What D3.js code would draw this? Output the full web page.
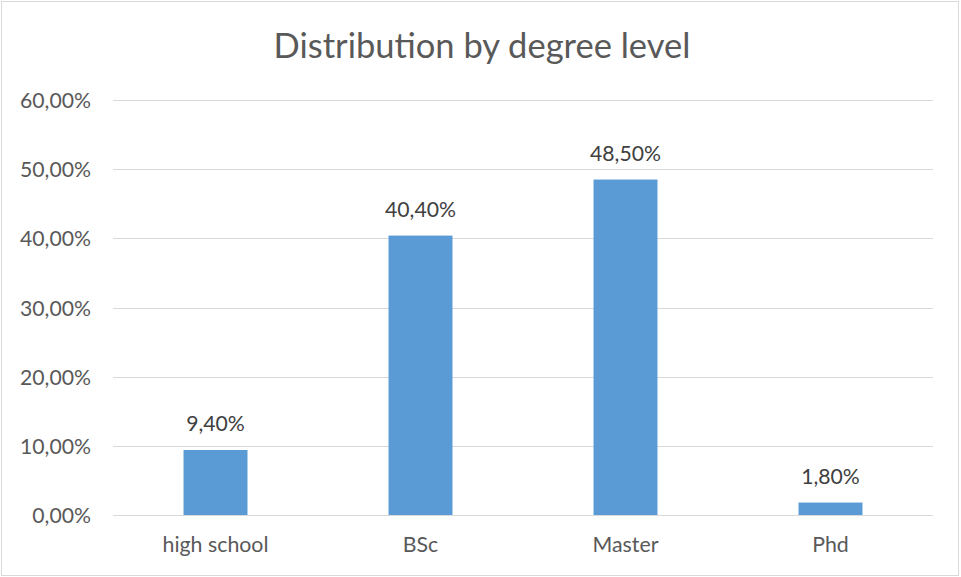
<!DOCTYPE html>
<html>
<head>
<meta charset="utf-8">
<script src="https://cdn.jsdelivr.net/npm/d3@7"></script>
<style>
  html, body { margin: 0; padding: 0; background: #fff; }
  svg { display: block; font-family: Lato, "Open Sans", sans-serif; }
</style>
</head>
<body>
<svg id="chart" width="961" height="577"></svg>
<script>
const categories = ["high school", "BSc", "Master", "Phd"];
const values = [9.40, 40.40, 48.50, 1.80];
const yTicks = [0, 10, 20, 30, 40, 50, 60];
const title = "Distribution by degree level";

const W = 961, H = 577;
const plot = { left: 113, right: 933, top: 100, bottom: 515 };
const svg = d3.select("#chart");

const fmt = v => v.toFixed(2).replace(".", ",") + "%";

// font size that makes a sample string span a given width
function fitSize(sample, width) {
  const t = svg.append("text").style("font-size", "100px").text(sample);
  const w = t.node().getComputedTextLength();
  t.remove();
  return 100 * width / w;
}
const labelSize = fitSize("50,00%", 71);
const catSize = fitSize("high school", 106);
const titleSize = fitSize(title, 417);

// chart frame
svg.append("rect")
  .attr("x", 1.5).attr("y", 1.5)
  .attr("width", W - 4).attr("height", H - 3)
  .attr("fill", "#fff").attr("stroke", "#d9d9d9").attr("stroke-width", 1);

const x = d3.scaleBand().domain(categories).range([plot.left, plot.right]).padding(0);
const y = d3.scaleLinear().domain([0, 60]).range([plot.bottom, plot.top]);

// gridlines
svg.append("g")
  .selectAll("line").data(yTicks).join("line")
  .attr("x1", plot.left).attr("x2", plot.right)
  .attr("y1", d => Math.round(y(d)) + 0.5).attr("y2", d => Math.round(y(d)) + 0.5)
  .attr("stroke", "#d9d9d9").attr("stroke-width", 1);

// y axis labels
const yAxis = d3.axisLeft(y).tickValues(yTicks).tickFormat(fmt).tickSize(0).tickPadding(0);
const gy = svg.append("g").attr("transform", `translate(${plot.left - 22},0)`).call(yAxis);
gy.select(".domain").remove();
gy.selectAll("text").attr("fill", "#595959").attr("dy", "0.36em")
  .style("font-size", labelSize + "px").style("font-family", "Lato, sans-serif");

// x axis labels
const xAxis = d3.axisBottom(x).tickSize(0).tickPadding(0);
const gx = svg.append("g").attr("transform", `translate(0,${plot.bottom + 22})`).call(xAxis);
gx.select(".domain").remove();
gx.selectAll("text").attr("fill", "#595959")
  .style("font-size", catSize + "px").style("font-family", "Lato, sans-serif");

// bars
const barW = x.bandwidth() * 0.312;
svg.append("g")
  .selectAll("rect").data(categories).join("rect")
  .attr("x", d => x(d) + (x.bandwidth() - barW) / 2)
  .attr("width", barW)
  .attr("y", (d, i) => y(values[i]))
  .attr("height", (d, i) => y(0) - y(values[i]))
  .attr("fill", "#5b9bd5");

// value labels
svg.append("g")
  .selectAll("text").data(categories).join("text")
  .attr("x", d => x(d) + x.bandwidth() / 2)
  .attr("y", (d, i) => y(values[i]) - 19)
  .attr("text-anchor", "middle")
  .attr("fill", "#404040")
  .style("font-size", labelSize + "px")
  .text((d, i) => fmt(values[i]));

// title
svg.append("text")
  .attr("x", 482)
  .attr("y", 58)
  .attr("text-anchor", "middle")
  .attr("fill", "#595959")
  .style("font-size", titleSize + "px")
  .text(title);
</script>
</body>
</html>
